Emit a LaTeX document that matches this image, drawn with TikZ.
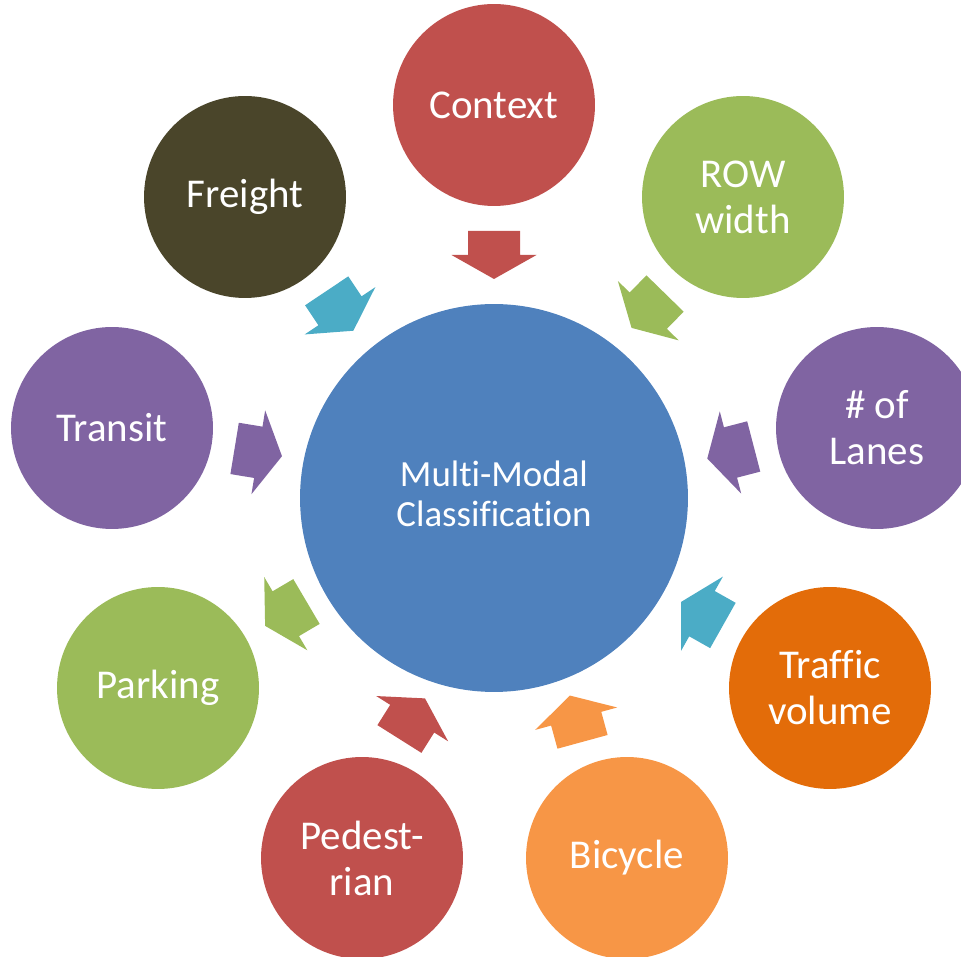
\documentclass[tikz,border=0pt]{standalone}
\usepackage{fontspec}
\setmainfont{Carlito}[Ligatures=NoCommon]

\definecolor{hubblue}{HTML}{4F81BD}
\definecolor{redacc}{HTML}{C0504D}
\definecolor{greenacc}{HTML}{9BBB59}
\definecolor{purpleacc}{HTML}{8064A2}
\definecolor{tealacc}{HTML}{4BACC6}
\definecolor{orangeacc}{HTML}{F79646}
\definecolor{darkorange}{HTML}{E36C09}
\definecolor{olivedark}{HTML}{4A452A}

\tikzset{
  hub/.style={circle,fill=hubblue,inner sep=0pt,minimum size=7.76cm},
  hubtext/.style={text=white,align=center,font=\fontsize{21}{22.8}\selectfont},
  spoke/.style={circle,inner sep=0pt,minimum size=4.04cm,
    text=white,align=center,font=\fontsize{23.3}{26.2}\selectfont},
}

% block arrow: colour, x, y (middle of the head base), angle
\newcommand{\blockarrow}[4]{%
  \fill[#1,shift={(#2,#3)},rotate=#4]
    (0,26) -- (-24,26) -- (-24,-26) -- (0,-26) -- (0,-42.5)
    -- (24,0) -- (0,42.5) -- cycle;}

\begin{document}
\begin{tikzpicture}[x=0.02cm,y=0.02cm]
    \clip (0,0) rectangle (961,957);

    \node[hub] (hub) at (494,459) {};
    \node[hubtext] (hubtext) at (494,463) {Multi-Modal\\Classification};

    \node[spoke,fill=redacc]     (context)  at (494,852) {Context};
    \node[spoke,fill=greenacc]   (row)      at (743,760) {ROW\\width};
    \node[spoke,fill=purpleacc]  (lanes)    at (877,529) {\# of\\Lanes};
    \node[spoke,fill=darkorange] (traffic)  at (830,269) {Traffic\\volume};
    \node[spoke,fill=orangeacc]  (bicycle)  at (627,99)  {Bicycle};
    \node[spoke,fill=redacc]     (ped)      at (362,99)  {Pedest-\\rian};
    \node[spoke,fill=greenacc]   (parking)  at (158,269) {Parking};
    \node[spoke,fill=purpleacc]  (transit)  at (112,529) {Transit};
    \node[spoke,fill=olivedark]  (freight)  at (245,760) {Freight};

    \blockarrow{redacc}{494}{702}{270}
    \blockarrow{greenacc}{648.3}{646.3}{225.7}
    \blockarrow{purpleacc}{730.5}{504.5}{194.6}
    \blockarrow{tealacc}{702}{343.3}{150.6}
    \blockarrow{orangeacc}{576.2}{238.3}{105.3}
    \blockarrow{redacc}{412.2}{238.3}{57.8}
    \blockarrow{greenacc}{285.8}{343.3}{210.5}
    \blockarrow{purpleacc}{258.3}{504.7}{350.7}
    \blockarrow{tealacc}{340}{646.2}{303.8}
\end{tikzpicture}
\end{document}
